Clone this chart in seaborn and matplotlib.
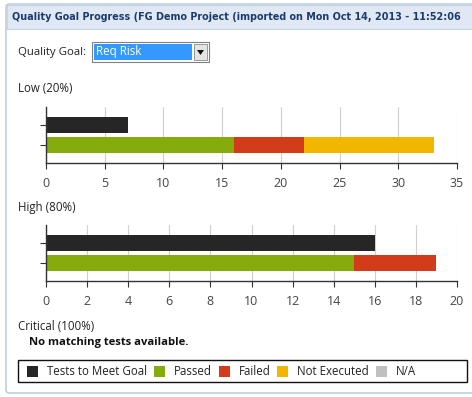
import matplotlib
matplotlib.use("Agg")
import matplotlib.pyplot as plt
import matplotlib.patches as mpatches
import numpy as np
import pandas as pd
import seaborn as sns

# --- data ---
rows = ["goal", "status"]
series = ["Tests to Meet Goal", "Passed", "Failed", "Not Executed", "N/A"]
colors = ["#262626", "#86ab0c", "#d23c1b", "#f2b500", "#c0c0c0"]

low_goal = 7
low_passed = 16
low_failed = 6
low_not_executed = 11

high_goal = 16
high_passed = 15
high_failed = 4
high_not_executed = 0

low_ticks = [0, 5, 10, 15, 20, 25, 30, 35]
high_ticks = [0, 2, 4, 6, 8, 10, 12, 14, 16, 18, 20]

title = "Quality Goal Progress (FG Demo Project (imported on Mon Oct 14, 2013 - 11:52:06"
section_labels = ["Low (20%)", "High (80%)", "Critical (100%)"]

sns.set_theme(style="white")
plt.rcParams["font.family"] = ["Open Sans", "DejaVu Sans"]

W, H = 472, 397
fig = plt.figure(figsize=(W / 100, H / 100), dpi=100)


def fx(x):
    return x / W


def fy(y):
    return 1 - y / H


def stacked_frame(goal, passed, failed, not_exec):
    # cumulative ends so the segments can be overlaid, longest first
    recs = [("goal", "Tests to Meet Goal", goal)]
    run = 0
    for name, v in [("Passed", passed), ("Failed", failed), ("Not Executed", not_exec)]:
        if v > 0:
            run += v
            recs.append(("status", name, run))
    return pd.DataFrame(recs, columns=["row", "series", "end"])


def draw_chart(ax, df, ticks):
    order = ["Not Executed", "Failed", "Passed", "Tests to Meet Goal"]
    order = [o for o in order if o in df["series"].values]
    pal = dict(zip(series, colors))
    sns.barplot(data=df, x="end", y="row", hue="series", hue_order=order,
                order=rows, dodge=False, palette=pal, width=0.76,
                saturation=1, legend=False, ax=ax, orient="h", linewidth=0)
    ax.set_xlim(ticks[0], ticks[-1])
    ax.set_ylim(1.9, -0.9)
    ax.set_xticks(ticks)
    ax.set_yticks([0, 1])
    ax.set_yticklabels([])
    ax.set_xlabel("")
    ax.set_ylabel("")
    ax.xaxis.grid(True, color="#cfcfcf", lw=0.8)
    ax.set_axisbelow(True)
    for s in ["top", "right"]:
        ax.spines[s].set_visible(False)
    for s in ["left", "bottom"]:
        ax.spines[s].set_color("#333333")
        ax.spines[s].set_linewidth(1.0)
    ax.tick_params(axis="both", direction="out", length=4, width=0.8,
                   color="#333333", labelsize=9, labelcolor="#454545", pad=6,
                   left=True, bottom=True)
    ax.patch.set_alpha(0)


# panel frame and title bar (kept behind the axes)
panel = mpatches.FancyBboxPatch((fx(6), fy(393)), fx(480) - fx(6), fy(4) - fy(393),
                                boxstyle="round,pad=0,rounding_size=0.008",
                                transform=fig.transFigure, facecolor="white",
                                edgecolor="#b4c6d4", lw=1.0, zorder=-5)
fig.patches.append(panel)
bar = mpatches.Rectangle((fx(7), fy(29)), fx(480) - fx(7), fy(5) - fy(29),
                         transform=fig.transFigure, facecolor="#dfe8f4",
                         edgecolor="#c6d4e4", lw=0.8, zorder=-4)
fig.patches.append(bar)
fig.text(fx(12), fy(17), title, fontsize=6.9, fontweight="bold",
         family="DejaVu Sans", color="#1c3b6b", va="center", ha="left")

# quality goal combo box
fig.text(fx(18), fy(52), "Quality Goal:", fontsize=8.2, color="#222222",
         va="center", ha="left")
fig.patches.append(mpatches.Rectangle((fx(92), fy(62)), fx(209) - fx(92), fy(42) - fy(62),
                                      transform=fig.transFigure, facecolor="white",
                                      edgecolor="#808080", lw=0.8))
fig.patches.append(mpatches.Rectangle((fx(94), fy(60)), fx(192) - fx(94), fy(44) - fy(60),
                                      transform=fig.transFigure, facecolor="#3399ff",
                                      edgecolor="none"))
fig.patches.append(mpatches.Rectangle((fx(194), fy(60)), fx(207) - fx(194), fy(44) - fy(60),
                                      transform=fig.transFigure, facecolor="#e4e4e4",
                                      edgecolor="#8a8a8a", lw=0.6))
fig.patches.append(mpatches.Polygon([(fx(197), fy(50)), (fx(204), fy(50)), (fx(200.5), fy(55))],
                                    closed=True, transform=fig.transFigure,
                                    facecolor="#111111", edgecolor="none"))
fig.text(fx(96), fy(52), "Req Risk", fontsize=8.3, color="white",
         va="center", ha="left")

# section labels
fig.text(fx(18), fy(89), section_labels[0], fontsize=8.3, color="#222222", va="center")
fig.text(fx(18), fy(208), section_labels[1], fontsize=8.3, color="#222222", va="center")
fig.text(fx(18), fy(326), section_labels[2], fontsize=8.3, color="#222222", va="center")
fig.text(fx(29), fy(343), "No matching tests available.", fontsize=8.1,
         fontweight="bold", color="#111111", va="center")

# charts
ax1 = fig.add_axes([fx(46), fy(163), fx(457) - fx(46), fy(107) - fy(163)])
draw_chart(ax1, stacked_frame(low_goal, low_passed, low_failed, low_not_executed), low_ticks)
ax2 = fig.add_axes([fx(46), fy(281), fx(457) - fx(46), fy(225) - fy(281)])
draw_chart(ax2, stacked_frame(high_goal, high_passed, high_failed, high_not_executed), high_ticks)

# legend strip
fig.patches.append(mpatches.Rectangle((fx(18), fy(382)), fx(467) - fx(18), fy(360) - fy(382),
                                      transform=fig.transFigure, facecolor="white",
                                      edgecolor="#111111", lw=1.0))
swatch_x = [27, 154, 219, 277, 376]
for sx, name, c in zip(swatch_x, series, colors):
    fig.patches.append(mpatches.Rectangle((fx(sx), fy(377)), fx(11) - fx(0), fy(366) - fy(377),
                                          transform=fig.transFigure, facecolor=c,
                                          edgecolor="none"))
    fig.text(fx(sx + 20), fy(371.5), name, fontsize=8.3, color="#222222",
             va="center", ha="left")

fig.savefig("out.png", dpi=100)
